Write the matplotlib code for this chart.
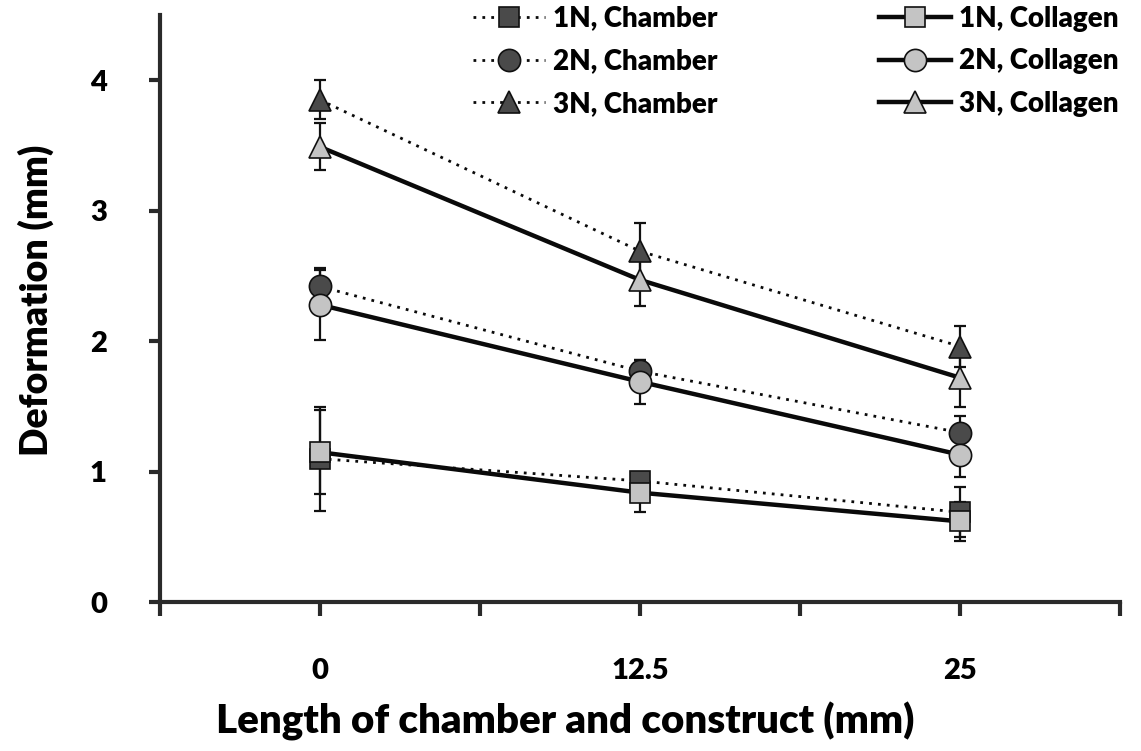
import matplotlib
matplotlib.use("Agg")
import matplotlib.pyplot as plt
from matplotlib.ticker import FixedLocator, FixedFormatter

plt.rcParams['font.family'] = ['Lato', 'DejaVu Sans']
plt.rcParams['font.weight'] = 'heavy'

# Chamber / construct length (mm)
lengths = [0, 12.5, 25]

# Mean deformation (mm) and standard deviation for each applied load
chamber_1n = [1.10, 0.93, 0.69]
chamber_1n_err = [0.40, 0.06, 0.19]
chamber_2n = [2.42, 1.77, 1.30]
chamber_2n_err = [0.14, 0.09, 0.13]
chamber_3n = [3.85, 2.69, 1.96]
chamber_3n_err = [0.15, 0.22, 0.16]

collagen_1n = [1.15, 0.84, 0.62]
collagen_1n_err = [0.32, 0.15, 0.15]
collagen_2n = [2.28, 1.69, 1.13]
collagen_2n_err = [0.27, 0.17, 0.17]
collagen_3n = [3.49, 2.47, 1.72]
collagen_3n_err = [0.18, 0.20, 0.22]

x_ticks = [-6.25, 0, 6.25, 12.5, 18.75, 25, 31.25]
x_tick_labels = ['', '0', '', '12.5', '', '25', '']
y_ticks = [0, 1, 2, 3, 4]

fig = plt.figure(figsize=(11.41, 7.51), dpi=100)
ax = fig.add_axes([0.140, 0.198, 0.842, 0.782])

dark_face = '#4a4a4a'
light_face = '#c4c4c4'
dotted = (0, (1, 2.2))

series = [
    (chamber_1n, chamber_1n_err, 's', dark_face, dotted, 2.0, 15, '1N, Chamber'),
    (chamber_2n, chamber_2n_err, 'o', dark_face, dotted, 2.0, 16, '2N, Chamber'),
    (chamber_3n, chamber_3n_err, '^', dark_face, dotted, 2.0, 16, '3N, Chamber'),
    (collagen_1n, collagen_1n_err, 's', light_face, '-', 3.2, 15, '1N, Collagen'),
    (collagen_2n, collagen_2n_err, 'o', light_face, '-', 3.2, 16, '2N, Collagen'),
    (collagen_3n, collagen_3n_err, '^', light_face, '-', 3.2, 16, '3N, Collagen'),
]

for vals, errs, mk, face, ls, lw, ms, lab in series:
    ax.errorbar(lengths, vals, yerr=errs, fmt='none', ecolor='#111111',
                elinewidth=1.6, capsize=4, capthick=1.6, zorder=2)
    ax.plot(lengths, vals, linestyle=ls, linewidth=lw, color='#0a0a0a',
            marker=mk, markersize=ms, markerfacecolor=face,
            markeredgecolor='#111111', markeredgewidth=1.2,
            label=lab, zorder=3)

ax.set_xlim(-6.25, 31.25)
ax.set_ylim(0, 4.5)
ax.xaxis.set_major_locator(FixedLocator(x_ticks))
ax.xaxis.set_major_formatter(FixedFormatter(x_tick_labels))
ax.set_yticks(y_ticks)

for side in ('top', 'right'):
    ax.spines[side].set_visible(False)
for side in ('left', 'bottom'):
    ax.spines[side].set_linewidth(3)
    ax.spines[side].set_color('#2a2a2a')

ax.tick_params(axis='x', direction='out', length=10, width=3, color='#2a2a2a',
               pad=30, labelsize=21)
ax.tick_params(axis='y', direction='out', length=8, width=3, color='#2a2a2a',
               pad=30, labelsize=21)
for t in ax.get_xticklabels() + ax.get_yticklabels():
    t.set_fontweight('heavy')

fig.text(0.495, 0.040, 'Length of chamber and construct (mm)', ha='center',
         va='center', fontsize=29, fontweight='heavy')
fig.text(0.031, 0.600, 'Deformation (mm)', ha='center', va='center',
         rotation=90, fontsize=27, fontweight='heavy')

leg = ax.legend(ncol=2, loc='upper right', bbox_to_anchor=(1.01, 1.035),
                frameon=False, fontsize=20, handlelength=2.6,
                handletextpad=0.3, columnspacing=5.8, labelspacing=0.6,
                borderaxespad=0.0)
for t in leg.get_texts():
    t.set_fontweight('heavy')

fig.savefig('out.png', dpi=100)
